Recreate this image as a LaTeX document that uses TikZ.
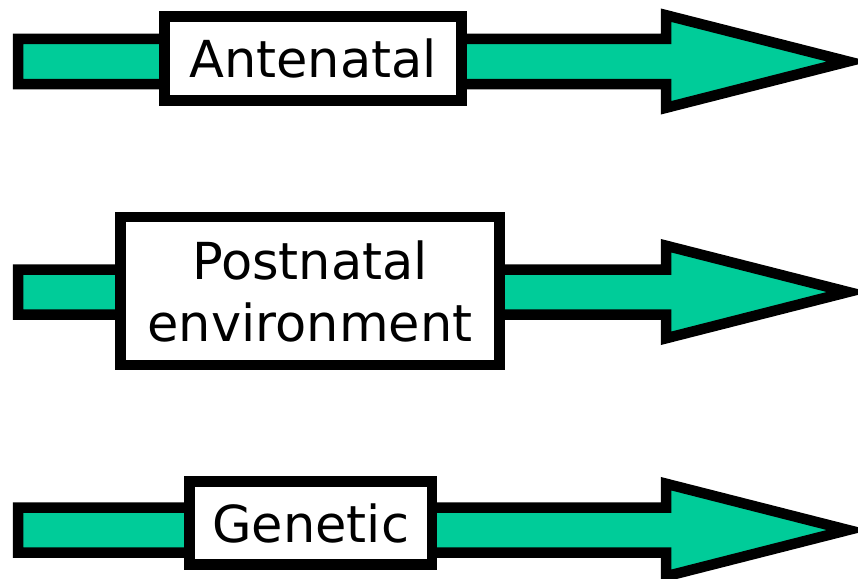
\documentclass[tikz,border=0pt]{standalone}
\usepackage{fontspec}
\setmainfont{DejaVu Sans}
\definecolor{shaftgreen}{RGB}{0,204,153}
\begin{document}
\begin{tikzpicture}[x=1pt,y=-1pt,
  bigarrow/.style={fill=shaftgreen,draw=black,line width=10.5pt,line join=miter,miter limit=10},
  labelbox/.style={draw=black,fill=white,line width=10.5pt,inner sep=0pt,align=center,
    font=\fontsize{51pt}{62pt}\selectfont},
]
\useasboundingbox (0,0) rectangle (858,578);

% block arrow: shaft from x=18 to the head at x=666, tip at x=848
\newcommand{\blockarrow}[1]{%
  \draw[bigarrow] (18,#1-22.5) -- (666,#1-22.5) -- (666,#1-46.3) -- (848,#1)
    -- (666,#1+46.3) -- (666,#1+22.5) -- (18,#1+22.5) -- cycle;}

\blockarrow{61.5}
\blockarrow{292}
\blockarrow{530}

\node[labelbox,minimum width=296.6pt,minimum height=83.7pt] (ante) at (313,58.5) {Antenatal};
\node[labelbox,minimum width=379.4pt,minimum height=148pt] (post) at (310,291) {Postnatal\\environment};
\node[labelbox,minimum width=242.5pt,minimum height=83.4pt] (gene) at (310.75,523) {Genetic};
\end{tikzpicture}
\end{document}
